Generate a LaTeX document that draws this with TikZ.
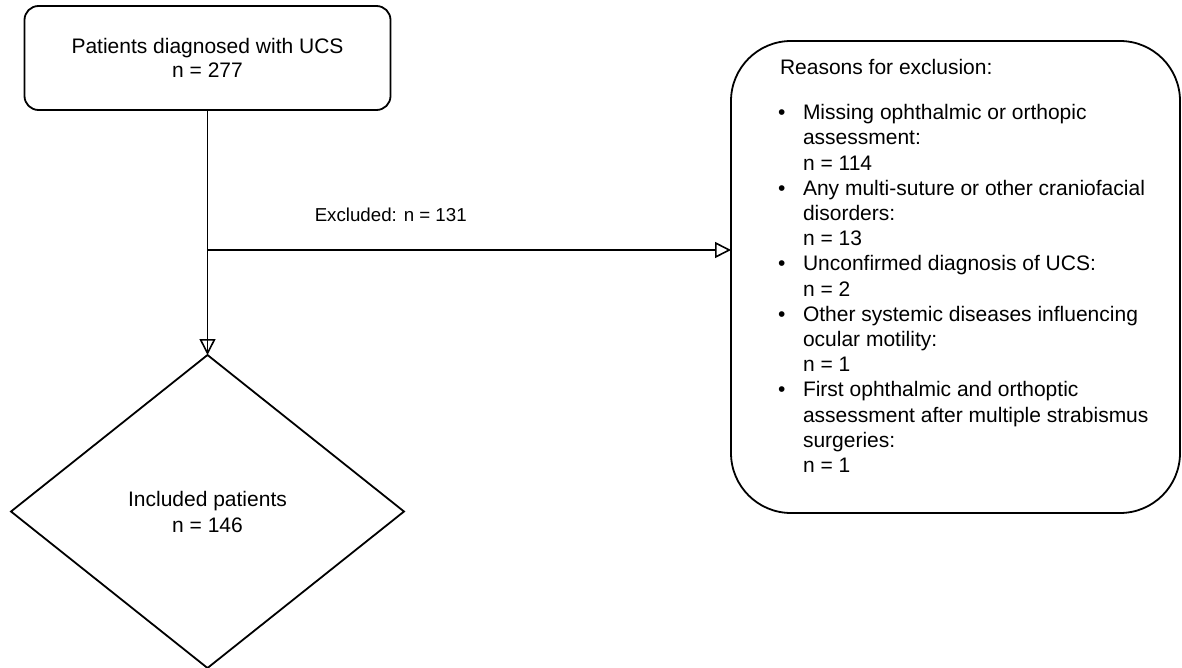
\documentclass[tikz,border=0pt]{standalone}
\usepackage{fontspec}
\setmainfont{Liberation Sans}
\usetikzlibrary{shapes.geometric,arrows.meta}
\tikzset{
  mainfont/.style={font=\fontsize{21}{24}\selectfont},
  listfont/.style={font=\fontsize{21}{25.2}\selectfont},
  startbox/.style={draw, line width=1.8pt, rounded corners=14pt, minimum width=366pt,
    minimum height=104pt, inner sep=0pt, outer sep=0pt, align=center, mainfont},
  decision/.style={draw, diamond, line width=1.8pt, minimum width=393pt, minimum height=313pt,
    aspect=1.2556, inner sep=0pt, outer sep=0pt, align=center, font=\fontsize{21}{26}\selectfont},
  exclbox/.style={draw, line width=1.8pt, rounded corners=60pt, minimum width=449pt,
    minimum height=472pt, inner sep=0pt, outer sep=0pt},
  plainline/.style={line width=1.8pt},
  conn/.style={line width=1.8pt, -{Triangle[open, length=16pt, width=16pt, line width=1.6pt]}},
  edgelabel/.style={font=\fontsize{18.7}{22}\selectfont},
  listtext/.style={anchor=north west, inner sep=0pt, outer sep=0pt, align=left, listfont}
}
\begin{document}
\begin{tikzpicture}[x=1pt,y=-1pt]
\useasboundingbox[fill=white] (0,0) rectangle (1182,668);
\node[startbox] (top) at (207.5,58) {Patients diagnosed with UCS\\n = 277};
\node[decision] (inc) at (207.5,511.5) {Included patients\\n = 146};
\node[exclbox] (excl) at (955.5,277) {};
\coordinate (j) at (207.5,250);
\draw[conn] (top.south) -- (inc.north);
\draw[plainline] (top.south) -- (inc.north);
\draw[conn] (j) -- node[pos=0.35, yshift=35pt, edgelabel] (lbl) {Excluded: n = 131} (j -| excl.west);
\node[listtext] (reasons) at (780,59.5) {Reasons for exclusion:};
\node[listtext] (list) at (778,104.5) {%
\makebox[25pt][l]{•}Missing ophthalmic or orthopic\\
\hspace*{25pt}assessment:\\
\hspace*{25pt}n = 114\\
\makebox[25pt][l]{•}Any multi-suture or other craniofacial\\
\hspace*{25pt}disorders:\\
\hspace*{25pt}n = 13\\
\makebox[25pt][l]{•}Unconfirmed diagnosis of UCS:\\
\hspace*{25pt}n = 2\\
\makebox[25pt][l]{•}Other systemic diseases influencing\\
\hspace*{25pt}ocular motility:\\
\hspace*{25pt}n = 1\\
\makebox[25pt][l]{•}First ophthalmic and orthoptic\\
\hspace*{25pt}assessment after multiple strabismus\\
\hspace*{25pt}surgeries:\\
\hspace*{25pt}n = 1};
\end{tikzpicture}
\end{document}
